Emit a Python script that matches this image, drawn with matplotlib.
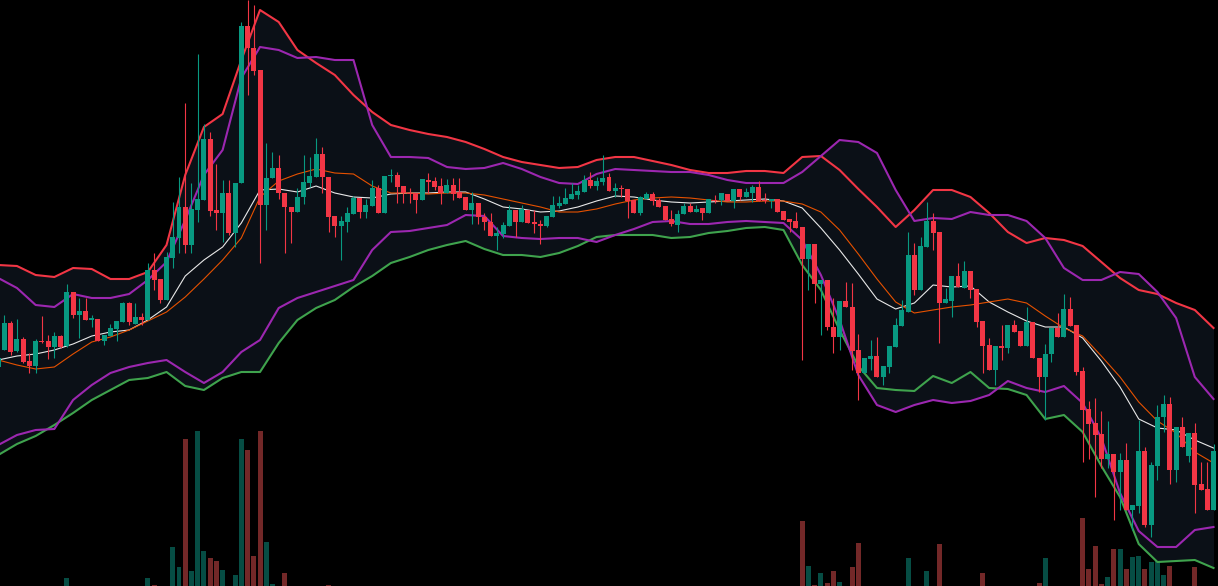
import numpy as np
import matplotlib
matplotlib.use("Agg")
import matplotlib.pyplot as plt

# candle data (price units), one entry per bar
open_ = [233, 250, 277, 249, 261, 239, 234, 259, 259, 253,
         264, 254, 308, 285, 289, 280, 281, 259, 264, 271,
         278, 297, 276, 283, 280, 330, 321, 300, 342, 362,
         393, 355, 390, 400, 461, 390, 387, 407, 367, 417,
         574, 552, 530, 395, 422, 432, 407, 393, 388, 403,
         417, 423, 446, 423, 384, 374, 378, 386, 402, 388,
         394, 412, 387, 424, 425, 414, 407, 407, 400, 420,
         419, 414, 407, 415, 408, 403, 390, 397, 383, 378,
         364, 366, 374, 390, 378, 390, 378, 376, 374, 383,
         394, 396, 401, 405, 408, 420, 414, 418, 423, 409,
         412, 411, 400, 387, 401, 406, 400, 394, 381, 375,
         386, 394, 388, 392, 387, 400, 400, 406, 399, 411,
         403, 407, 413, 400, 399, 401, 389, 381, 379, 373,
         341, 356, 316, 320, 273, 263, 299, 293, 250, 227,
         241, 244, 223, 233, 253, 274, 288, 345, 310, 353,
         379, 368, 297, 299, 324, 312, 329, 311, 279, 255,
         230, 254, 252, 275, 269, 254, 278, 242, 223, 246,
         272, 263, 291, 275, 229, 191, 177, 166, 141, 146,
         128, 140, 90, 94, 149, 75, 134, 183, 196, 130,
         173, 144, 167, 116, 111, 90]
high = [245, 285, 279, 281, 263, 247, 261, 284, 265, 268,
        265, 316, 308, 302, 302, 285, 281, 265, 276, 279,
        298, 298, 297, 287, 337, 347, 321, 348, 398, 423,
        497, 417, 546, 476, 468, 436, 420, 420, 417, 578,
        600, 595, 530, 457, 448, 445, 407, 393, 412, 445,
        443, 462, 453, 423, 384, 384, 393, 404, 402, 401,
        420, 415, 424, 431, 428, 414, 412, 407, 421, 427,
        423, 422, 421, 422, 422, 403, 408, 397, 387, 387,
        373, 378, 395, 390, 395, 390, 390, 380, 384, 404,
        404, 412, 417, 415, 425, 428, 423, 445, 427, 417,
        415, 411, 400, 404, 408, 408, 402, 394, 390, 390,
        397, 397, 395, 392, 401, 405, 407, 406, 411, 411,
        412, 415, 419, 407, 401, 401, 389, 381, 388, 373,
        356, 356, 320, 320, 302, 299, 318, 317, 266, 242,
        260, 263, 234, 254, 282, 300, 368, 357, 363, 398,
        387, 368, 312, 324, 337, 339, 329, 311, 279, 262,
        254, 275, 275, 280, 269, 293, 278, 242, 256, 272,
        287, 306, 303, 275, 233, 199, 202, 189, 179, 146,
        147, 157, 95, 180, 153, 138, 195, 205, 203, 173,
        183, 167, 177, 138, 138, 156]
low = [230, 250, 245, 248, 237, 227, 227, 257, 241, 242,
       252, 253, 282, 262, 280, 273, 259, 255, 264, 259,
       278, 275, 276, 275, 280, 310, 297, 300, 332, 347,
       347, 347, 378, 400, 384, 370, 358, 365, 353, 417,
       505, 525, 337, 370, 422, 401, 347, 357, 388, 396,
       413, 423, 407, 368, 363, 340, 368, 386, 382, 382,
       394, 387, 387, 418, 397, 397, 397, 387, 400, 407,
       410, 396, 407, 400, 402, 390, 376, 376, 370, 364,
       350, 362, 374, 363, 378, 377, 367, 356, 373, 383,
       392, 396, 401, 401, 408, 412, 410, 415, 409, 403,
       403, 382, 387, 385, 401, 395, 393, 380, 374, 368,
       386, 388, 388, 380, 387, 397, 395, 399, 392, 400,
       403, 398, 399, 397, 392, 388, 380, 368, 372, 240,
       310, 297, 265, 270, 247, 250, 293, 230, 200, 227,
       230, 223, 215, 227, 253, 274, 288, 305, 310, 353,
       350, 257, 297, 283, 313, 312, 302, 273, 227, 230,
       215, 240, 247, 268, 254, 254, 242, 208, 180, 238,
       263, 263, 274, 225, 138, 141, 103, 132, 132, 80,
       90, 90, 70, 87, 73, 63, 120, 168, 116, 118,
       153, 138, 87, 110, 90, 90]
close = [242, 277, 248, 261, 238, 234, 259, 258, 253, 264,
         253, 308, 285, 289, 280, 282, 259, 265, 272, 279,
         297, 278, 283, 280, 330, 320, 300, 343, 363, 393,
         355, 391, 401, 461, 389, 387, 407, 367, 417, 574,
         552, 529, 395, 422, 432, 407, 393, 388, 403, 418,
         424, 446, 423, 383, 374, 379, 387, 402, 388, 395,
         412, 387, 424, 425, 413, 407, 406, 400, 421, 418,
         413, 407, 415, 406, 402, 390, 397, 383, 378, 364,
         367, 375, 390, 378, 391, 377, 376, 374, 384, 395,
         397, 402, 406, 409, 420, 414, 419, 422, 409, 412,
         411, 399, 387, 403, 406, 399, 393, 380, 376, 386,
         394, 388, 391, 387, 401, 399, 407, 399, 411, 403,
         408, 413, 399, 399, 401, 388, 380, 378, 372, 341,
         356, 316, 320, 273, 263, 299, 293, 249, 227, 242,
         244, 223, 234, 254, 275, 290, 345, 310, 354, 379,
         367, 297, 301, 324, 313, 329, 310, 278, 254, 230,
         254, 252, 275, 268, 254, 278, 242, 223, 246, 272,
         263, 291, 274, 228, 190, 176, 165, 141, 146, 128,
         140, 90, 95, 149, 75, 135, 183, 196, 130, 173,
         153, 167, 115, 110, 90, 149]

# volume, only bars that show up (others ~0)
volume_seen = {11: 8, 24: 8, 25: 1, 28: 39, 29: 19, 30: 147, 31: 15, 32: 155,
               33: 35, 34: 28, 35: 25, 36: 16, 38: 11, 39: 147, 40: 136, 41: 30,
               42: 155, 43: 44, 44: 2, 46: 13, 53: 1, 129: 65, 130: 20, 131: 1,
               132: 13, 133: 3, 134: 15, 135: 4, 137: 19, 138: 43, 146: 28,
               149: 15, 151: 42, 158: 13, 167: 3, 168: 28, 174: 68, 175: 17,
               176: 40, 177: 2, 178: 9, 179: 37, 180: 37, 181: 17, 182: 29,
               183: 30, 184: 17, 185: 24, 186: 27, 187: 11, 188: 20, 192: 19}

# indicator lines, sampled every 3rd bar
band_step = 3
red_upper = [335, 334, 325, 323, 332, 331, 321, 321, 328, 355,
             425, 473, 486, 540, 590, 578, 550, 537, 525, 505,
             488, 475, 470, 466, 463, 458, 451, 443, 438, 435,
             432, 433, 440, 443, 443, 439, 435, 430, 427, 427,
             429, 429, 427, 443, 444, 430, 411, 393, 373, 390,
             410, 410, 403, 387, 368, 357, 362, 360, 354, 338,
             322, 310, 306, 297, 290, 272]
green_lower = [145, 156, 164, 175, 187, 200, 210, 220, 222, 228,
               214, 210, 222, 228, 228, 257, 280, 292, 300, 313,
               324, 337, 343, 350, 355, 359, 351, 345, 345, 343,
               347, 354, 363, 365, 365, 365, 362, 363, 367, 369,
               372, 373, 370, 335, 310, 270, 234, 212, 210, 209,
               224, 217, 228, 212, 211, 205, 181, 185, 168, 134,
               103, 56, 38, 39, 40, 32]
purple_upper = [322, 312, 295, 293, 306, 302, 302, 306, 320, 338,
                380, 425, 450, 522, 553, 550, 542, 543, 540, 540,
                475, 443, 443, 442, 433, 431, 432, 437, 431, 423,
                417, 416, 426, 431, 430, 429, 428, 428, 425, 420,
                417, 417, 417, 428, 444, 460, 458, 447, 410, 379,
                382, 381, 388, 385, 385, 379, 362, 332, 320, 320,
                328, 326, 308, 282, 223, 201]
purple_lower = [155, 165, 170, 171, 200, 215, 227, 233, 237, 240,
                228, 217, 228, 248, 260, 292, 302, 308, 314, 320,
                350, 368, 369, 372, 375, 385, 384, 364, 362, 361,
                362, 362, 358, 365, 371, 378, 379, 376, 376, 378,
                379, 378, 377, 360, 325, 280, 225, 195, 188, 195,
                200, 197, 199, 205, 219, 212, 208, 214, 197, 162,
                107, 69, 53, 53, 70, 73]
ma_fast = [240, 244, 246, 250, 256, 264, 268, 270, 280, 293,
           324, 340, 353, 377, 410, 411, 408, 414, 407, 403,
           402, 406, 407, 407, 408, 408, 401, 393, 391, 388,
           389, 393, 399, 404, 403, 400, 398, 397, 398, 399,
           400, 401, 399, 392, 372, 350, 326, 301, 291, 297,
           315, 313, 314, 298, 288, 279, 273, 273, 262, 239,
           213, 181, 172, 170, 160, 152]
ma_slow = [240, 235, 231, 233, 246, 258, 263, 270, 279, 288,
           303, 321, 340, 362, 403, 419, 426, 431, 427, 426,
           414, 407, 407, 406, 407, 407, 405, 401, 397, 393,
           388, 388, 391, 396, 400, 402, 403, 402, 400, 398,
           398, 399, 399, 396, 388, 370, 346, 321, 298, 287,
           290, 293, 295, 298, 301, 297, 284, 272, 264, 244,
           223, 198, 179, 167, 148, 137]

o = np.array(open_, float)
h = np.array(high, float)
l = np.array(low, float)
c = np.array(close, float)
n = len(o)
x = np.arange(n)
h = np.maximum(h, np.maximum(o, c))
l = np.minimum(l, np.minimum(o, c))
vol = np.zeros(n)
for k, v in volume_seen.items():
    vol[k] = v
up = c >= o

bx = np.arange(0, n, band_step)

UP = "#089981"
DN = "#f23645"
BG = "#000000"
FILL = "#0b1017"

fig = plt.figure(figsize=(12.18, 5.86), dpi=100, facecolor=BG)
xl = (0.278, 195.72)

# volume underneath
axv = fig.add_axes([0, 0, 1, 1])
axv.set_facecolor(BG)
axv.bar(x, vol, width=0.8, color=np.where(up, "#064d44", "#732828"), linewidth=0)
axv.set_xlim(*xl)
axv.set_ylim(0, 586)
axv.axis("off")

ax = fig.add_axes([0, 0, 1, 1])
ax.set_facecolor("none")
ax.fill_between(bx, red_upper, green_lower, color=FILL, lw=0, zorder=1)
ax.fill_between(bx, purple_upper, purple_lower, color=FILL, lw=0, zorder=1)
ax.plot(bx, red_upper, color="#f23645", lw=1.5, zorder=2)
ax.plot(bx, green_lower, color="#3fa34d", lw=1.5, zorder=2)
ax.plot(bx, purple_upper, color="#9c27b0", lw=1.5, zorder=2)
ax.plot(bx, purple_lower, color="#9c27b0", lw=1.5, zorder=2)
ax.plot(bx, ma_fast, color="#e8e8e8", lw=0.8, zorder=3)
ax.plot(bx, ma_slow, color="#e65100", lw=0.8, zorder=3)

cols = np.where(up, UP, DN)
ax.vlines(x, l, h, colors=cols, lw=0.8, zorder=4)
body_lo = np.minimum(o, c)
body_h = np.maximum(np.abs(c - o), 1.0)
ax.bar(x, body_h, bottom=body_lo, width=0.8, color=cols, linewidth=0, zorder=5)

ax.set_xlim(*xl)
ax.set_ylim(14, 600)
ax.axis("off")

fig.savefig("out.png", dpi=100, facecolor=BG)
